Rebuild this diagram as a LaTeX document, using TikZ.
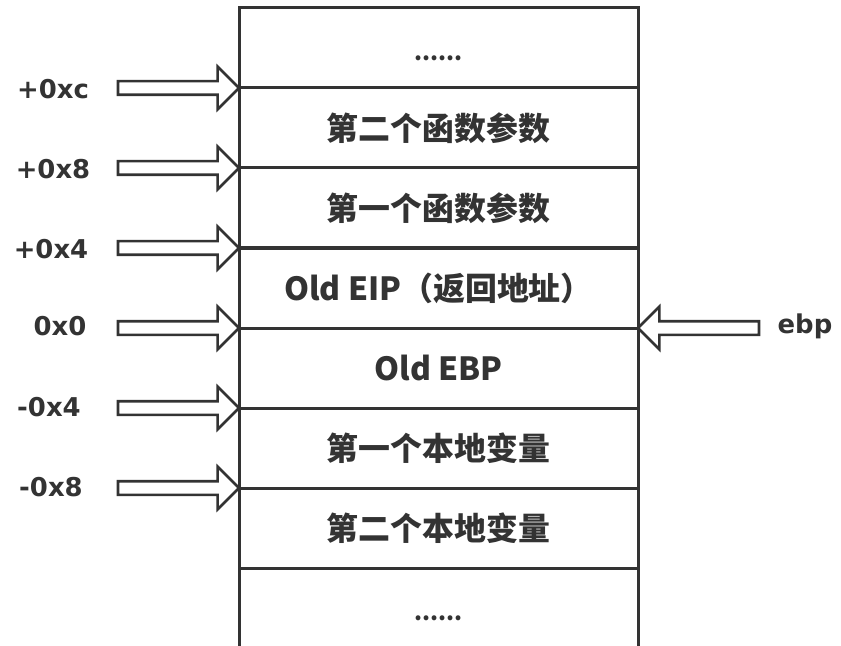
\documentclass[tikz,border=0pt]{standalone}
\usepackage{fontspec}
\setmainfont{Noto Sans CJK SC}
\newfontfamily\offsetfont{DejaVu Sans}
\usetikzlibrary{shapes.arrows}
\definecolor{ink}{HTML}{333333}
\newcommand{\stackdots}{{\vphantom{第}\fontsize{23}{26}\selectfont ......}}
\begin{document}
\begin{tikzpicture}[x=1bp, y=-1bp,
		cell/.style = {draw=ink, line width=3bp, outer sep=0pt, minimum width=399bp, minimum height=80bp, inner sep=0pt, text=ink, font=\fontsize{32}{36}\selectfont\bfseries},
		lbl/.style = {text=ink, font=\fontsize{26}{29}\offsetfont\bfseries},
		blk/.style = {single arrow, draw=ink, line width=2.6bp, fill=white, inner xsep=0pt, inner ysep=5.5bp, outer sep=0pt, minimum height=121bp, single arrow head extend=14.5bp, single arrow head indent=0pt, single arrow tip angle=90, anchor=tip}]
				\useasboundingbox (0,0) rectangle (841,646);

				\node[cell] (c1) at (438.5,48) {\stackdots};
				\node[cell] (c2) at (438.5,128) {第二个函数参数};
				\node[cell] (c3) at (438.5,208) {第一个函数参数};
				\node[cell] (c4) at (438.5,288) {Old EIP（返回地址）};
				\node[cell] (c5) at (438.5,368) {Old EBP};
				\node[cell] (c6) at (438.5,448) {第一个本地变量};
				\node[cell] (c7) at (438.5,528) {第二个本地变量};
				\node[cell, draw=none] (c8) at (438.5,608) {\stackdots};
				\draw[ink, line width=3bp] (c8.south west) -- (c8.north west) (c8.north east) -- (c8.south east);

				\node[blk] (a1) at (c2.north west) {};
				\node[blk] (a2) at (c3.north west) {};
				\node[blk] (a3) at (c4.north west) {};
				\node[blk] (a4) at (c5.north west) {};
				\node[blk] (a5) at (c6.north west) {};
				\node[blk] (a6) at (c7.north west) {};
				\node[blk, shape border rotate=180] (a7) at (c5.north east) {};

				\node[lbl] (l1) at (53,89) {+0xc};
				\node[lbl] (l2) at (53,169) {+0x8};
				\node[lbl] (l3) at (51,249) {+0x4};
				\node[lbl] (l4) at (60,326) {0x0};
				\node[lbl] (l5) at (49,407) {-0x4};
				\node[lbl] (l6) at (51,487) {-0x8};
				\node[lbl] (l7) at (805,326) {ebp};

			\end{tikzpicture}
\end{document}
